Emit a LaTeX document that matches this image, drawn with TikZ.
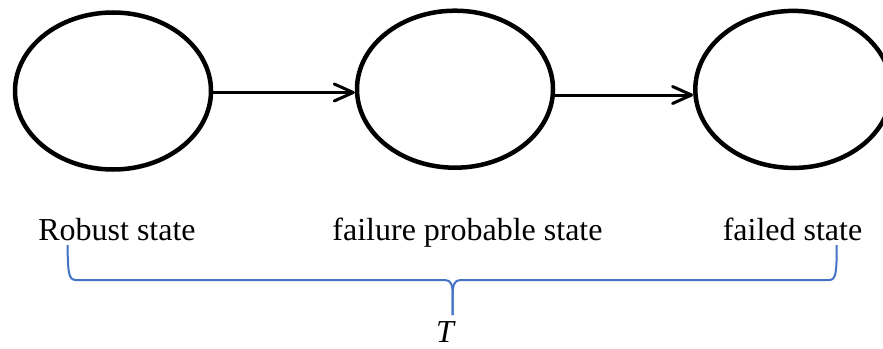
\documentclass[tikz,border=0pt]{standalone}
\usepackage{fontspec}
\setmainfont{Liberation Serif}
\usetikzlibrary{shapes.geometric,arrows.meta}
\definecolor{braceblue}{HTML}{4472C4}
\begin{document}
\begin{tikzpicture}[x=1pt,y=-1pt,
  stateell/.style={draw=black,line width=4.5pt,ellipse,inner sep=0pt,minimum width=196pt,minimum height=157pt},
  flow/.style={line width=3pt,-{Straight Barb[length=19pt,width=17pt,round]}},
  lbl/.style={anchor=base,inner sep=0pt,font=\fontsize{32}{36}\selectfont},
  bracepath/.style={draw=braceblue,line width=2pt}]
\useasboundingbox (0,0) rectangle (883,348);
\node[stateell] (e1) at (113,91) {};
\node[stateell] (e2) at (455,89.2) {};
\node[stateell] (e3) at (793.3,89.4) {};
\draw[flow] ([yshift=-1.5pt]e1.east) -- ([yshift=-1.5pt]e1.east -| e2.west);
\draw[flow] ([yshift=-5.8pt]e2.east) -- ([yshift=-5.8pt]e2.east -| e3.west);
\node[lbl] (l1) at (117,240.7) {Robust state};
\node[lbl] (l2) at (467.5,240.7) {failure probable state};
\node[lbl] (l3) at (792.5,240.7) {failed state};
\node[lbl,font=\fontsize{32}{36}\selectfont\itshape] (t) at (445,342) {T};
\coordinate (bl) at (67.5,245);
\coordinate (bt) at (452.7,315);
\coordinate (br) at (836.7,245);
\path[bracepath] (bl) .. controls (68,273) and (68.5,280) .. (76,280) -- (445,280)
  .. controls (451,280) and (452.7,285) .. (452.7,295) -- (bt);
\path[bracepath] (bt) -- (452.7,295) .. controls (452.7,285) and (454.4,280) .. (460.4,280)
  -- (829,280) .. controls (836,280) and (836.7,273) .. (br);
\end{tikzpicture}
\end{document}
